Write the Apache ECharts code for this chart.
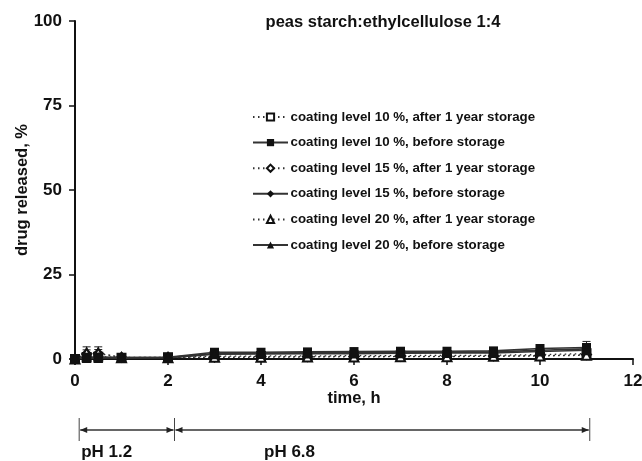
<!DOCTYPE html>
<html>
<head>
<meta charset="utf-8">
<script src="https://cdn.jsdelivr.net/npm/echarts@6/dist/echarts.min.js"></script>
<style>
  html, body { margin: 0; padding: 0; background: #fff; }
  #chart { width: 642px; height: 461px; }
</style>
</head>
<body>
<div id="chart"></div>
<script>
// Sampling times (h)
const times = [0, 0.25, 0.5, 1, 2, 3, 4, 5, 6, 7, 8, 9, 10, 11];

// Drug released (%) for each coating level / storage condition
const cl10After  = [0, 0.6, 0.7, 0.4, 0.5, 0.8, 0.9, 0.9, 1.0, 1.0, 1.1, 1.1, 1.3, 1.6];
const cl10Before = [0, 0.5, 0.5, 0.4, 0.5, 2.0, 2.0, 2.1, 2.2, 2.3, 2.3, 2.4, 3.1, 3.4];
const cl15After  = [0, 1.5, 1.6, 0.5, 0.5, 0.6, 0.7, 0.7, 0.8, 0.8, 0.8, 0.9, 1.0, 1.3];
const cl15Before = [0, 0.4, 0.5, 0.4, 0.4, 1.6, 1.7, 1.8, 1.9, 1.9, 2.0, 2.1, 2.6, 3.0];
const cl20After  = [0, 1.8, 1.8, 0.4, 0.4, 0.5, 0.5, 0.6, 0.6, 0.7, 0.7, 0.8, 0.9, 1.1];
const cl20Before = [0, 0.3, 0.3, 0.3, 0.4, 1.4, 1.5, 1.6, 1.6, 1.7, 1.8, 1.8, 2.2, 2.6];

// Standard deviations
const sd10After  = [0, 0.5, 0.5, 0.2, 0.2, 0.3, 0.3, 0.3, 0.3, 0.3, 0.3, 0.3, 0.4, 0.5];
const sd10Before = [0, 0.3, 0.3, 0.2, 0.3, 0.5, 0.6, 0.5, 0.5, 0.5, 0.7, 0.5, 0.8, 1.8];
const sd15After  = [0, 1.2, 1.2, 0.2, 0.2, 0.3, 0.3, 0.3, 0.3, 0.3, 0.3, 0.3, 0.4, 0.6];
const sd15Before = [0, 0.3, 0.3, 0.2, 0.3, 0.4, 0.5, 0.4, 0.4, 0.4, 0.6, 0.4, 0.7, 1.2];
const sd20After  = [0, 1.8, 1.8, 0.2, 0.2, 0.3, 0.3, 0.3, 0.3, 0.3, 0.3, 0.3, 0.4, 0.6];
const sd20Before = [0, 0.3, 0.3, 0.2, 0.3, 0.4, 0.5, 0.4, 0.4, 0.4, 0.5, 0.4, 0.6, 1.0];

// Axis ticks
const xTicks = [0, 2, 4, 6, 8, 10, 12];
const yTicks = [0, 25, 50, 75, 100];

// Dissolution medium phases (h)
const phaseBounds = [0.09, 2.14, 11.07];
const phaseLabels = ['pH 1.2', 'pH 6.8'];

const FONT = 'Liberation Sans, Arial, sans-serif';
const INK = '#111';

const seriesDefs = [
  { name: 'coating level 10 %, after 1 year storage', data: cl10After,  sd: sd10After,  symbol: 'emptyRect',     size: 8,  dashed: true },
  { name: 'coating level 10 %, before storage',       data: cl10Before, sd: sd10Before, symbol: 'rect',          size: 9,  dashed: false },
  { name: 'coating level 15 %, after 1 year storage', data: cl15After,  sd: sd15After,  symbol: 'emptyDiamond',  size: 9,  dashed: true },
  { name: 'coating level 15 %, before storage',       data: cl15Before, sd: sd15Before, symbol: 'diamond',       size: 10, dashed: false },
  { name: 'coating level 20 %, after 1 year storage', data: cl20After,  sd: sd20After,  symbol: 'emptyTriangle', size: 9,  dashed: true },
  { name: 'coating level 20 %, before storage',       data: cl20Before, sd: sd20Before, symbol: 'triangle',      size: 10, dashed: false }
];

const series = [];
seriesDefs.forEach(function (d) {
  series.push({
    name: d.name,
    type: 'line',
    data: times.map(function (t, i) { return [t, d.data[i]]; }),
    symbol: d.symbol,
    symbolSize: d.size,
    showAllSymbol: true,
    itemStyle: { color: INK, borderWidth: 1 },
    lineStyle: { color: '#333', width: d.dashed ? 1.3 : 1.6, type: d.dashed ? [1.5, 3.5] : 'solid' },
    z: d.dashed ? 3 : 4
  });
  // Error bars (mean ± SD)
  series.push({
    type: 'custom',
    name: d.name + ' sd',
    silent: true,
    data: times.map(function (t, i) { return [t, d.data[i] - d.sd[i], d.data[i] + d.sd[i]]; }),
    renderItem: function (params, api) {
      const lo = api.coord([api.value(0), api.value(1)]);
      const hi = api.coord([api.value(0), api.value(2)]);
      const w = 4;
      const style = { stroke: '#222', lineWidth: 1 };
      return {
        type: 'group',
        children: [
          { type: 'line', shape: { x1: lo[0], y1: lo[1], x2: hi[0], y2: hi[1] }, style: style },
          { type: 'line', shape: { x1: lo[0] - w, y1: lo[1], x2: lo[0] + w, y2: lo[1] }, style: style },
          { type: 'line', shape: { x1: hi[0] - w, y1: hi[1], x2: hi[0] + w, y2: hi[1] }, style: style }
        ]
      };
    },
    z: 2
  });
});

const chart = echarts.init(document.getElementById('chart'), null, { renderer: 'canvas' });

const option = {
  animation: false,
  backgroundColor: '#fff',
  title: {
    text: 'peas starch:ethylcellulose 1:4',
    left: 383, top: 14, textAlign: 'center', padding: 0,
    textStyle: { fontFamily: FONT, fontSize: 16.5, fontWeight: 'bold', color: INK }
  },
  grid: { left: 75, right: 9, top: 21, bottom: 102, containLabel: false, outerBoundsMode: 'none' },
  legend: {
    orient: 'vertical',
    left: 252, top: 110, padding: 0,
    itemWidth: 35, itemHeight: 9,
    itemGap: 11.6,
    data: seriesDefs.map(function (d) { return d.name; }),
    textStyle: { fontFamily: FONT, fontSize: 13.3, fontWeight: 'bold', color: INK, lineHeight: 14, padding: [0, 0, 0, -2.5] }
  },
  xAxis: {
    type: 'value',
    min: xTicks[0], max: xTicks[xTicks.length - 1], interval: 2,
    name: 'time, h', nameLocation: 'middle', nameGap: 31, nameMoveOverlap: false,
    nameTextStyle: { fontFamily: FONT, fontSize: 16.5, fontWeight: 'bold', color: INK },
    axisLine: { lineStyle: { color: INK, width: 2 } },
    axisTick: { show: true, inside: false, length: 6, lineStyle: { color: INK, width: 1.5 } },
    axisLabel: { fontFamily: FONT, fontSize: 17, fontWeight: 'bold', color: INK, margin: 14 },
    splitLine: { show: false }
  },
  yAxis: {
    type: 'value',
    min: yTicks[0], max: yTicks[yTicks.length - 1], interval: 25,
    name: 'drug released, %', nameLocation: 'middle', nameGap: 44, nameRotate: 90, nameMoveOverlap: false,
    nameTextStyle: { fontFamily: FONT, fontSize: 16.5, fontWeight: 'bold', color: INK },
    axisLine: { show: true, lineStyle: { color: INK, width: 2 } },
    axisTick: { show: true, inside: false, length: 6, lineStyle: { color: INK, width: 1.5 } },
    axisLabel: { fontFamily: FONT, fontSize: 17, fontWeight: 'bold', color: INK, margin: 13 },
    splitLine: { show: false }
  },
  series: series
};

chart.setOption(option);

// Phase annotation below the time axis
const yArrow = 430;
const px = phaseBounds.map(function (t) { return chart.convertToPixel({ gridIndex: 0 }, [t, 0])[0]; });
const graphics = [];
px.forEach(function (x) {
  graphics.push({ type: 'line', shape: { x1: x, y1: 418, x2: x, y2: 441 }, style: { stroke: '#444', lineWidth: 1 } });
});
function arrowHead(x, dir) {
  return { type: 'polygon', shape: { points: [[x, yArrow], [x - dir * 7, yArrow - 3], [x - dir * 7, yArrow + 3]] }, style: { fill: '#222' } };
}
for (let i = 0; i < px.length - 1; i++) {
  const a = px[i] + 1, b = px[i + 1] - 1;
  graphics.push({ type: 'line', shape: { x1: a, y1: yArrow, x2: b, y2: yArrow }, style: { stroke: '#333', lineWidth: 1.5 } });
  graphics.push(arrowHead(a, -1));
  graphics.push(arrowHead(b, 1));
}
graphics.push({ type: 'text', left: px[0] + 2, top: 444, style: { text: phaseLabels[0], font: 'bold 17px ' + FONT, fill: INK } });
graphics.push({ type: 'text', left: 264, top: 444, style: { text: phaseLabels[1], font: 'bold 17px ' + FONT, fill: INK } });
chart.setOption({ graphic: graphics });
</script>
</body>
</html>
